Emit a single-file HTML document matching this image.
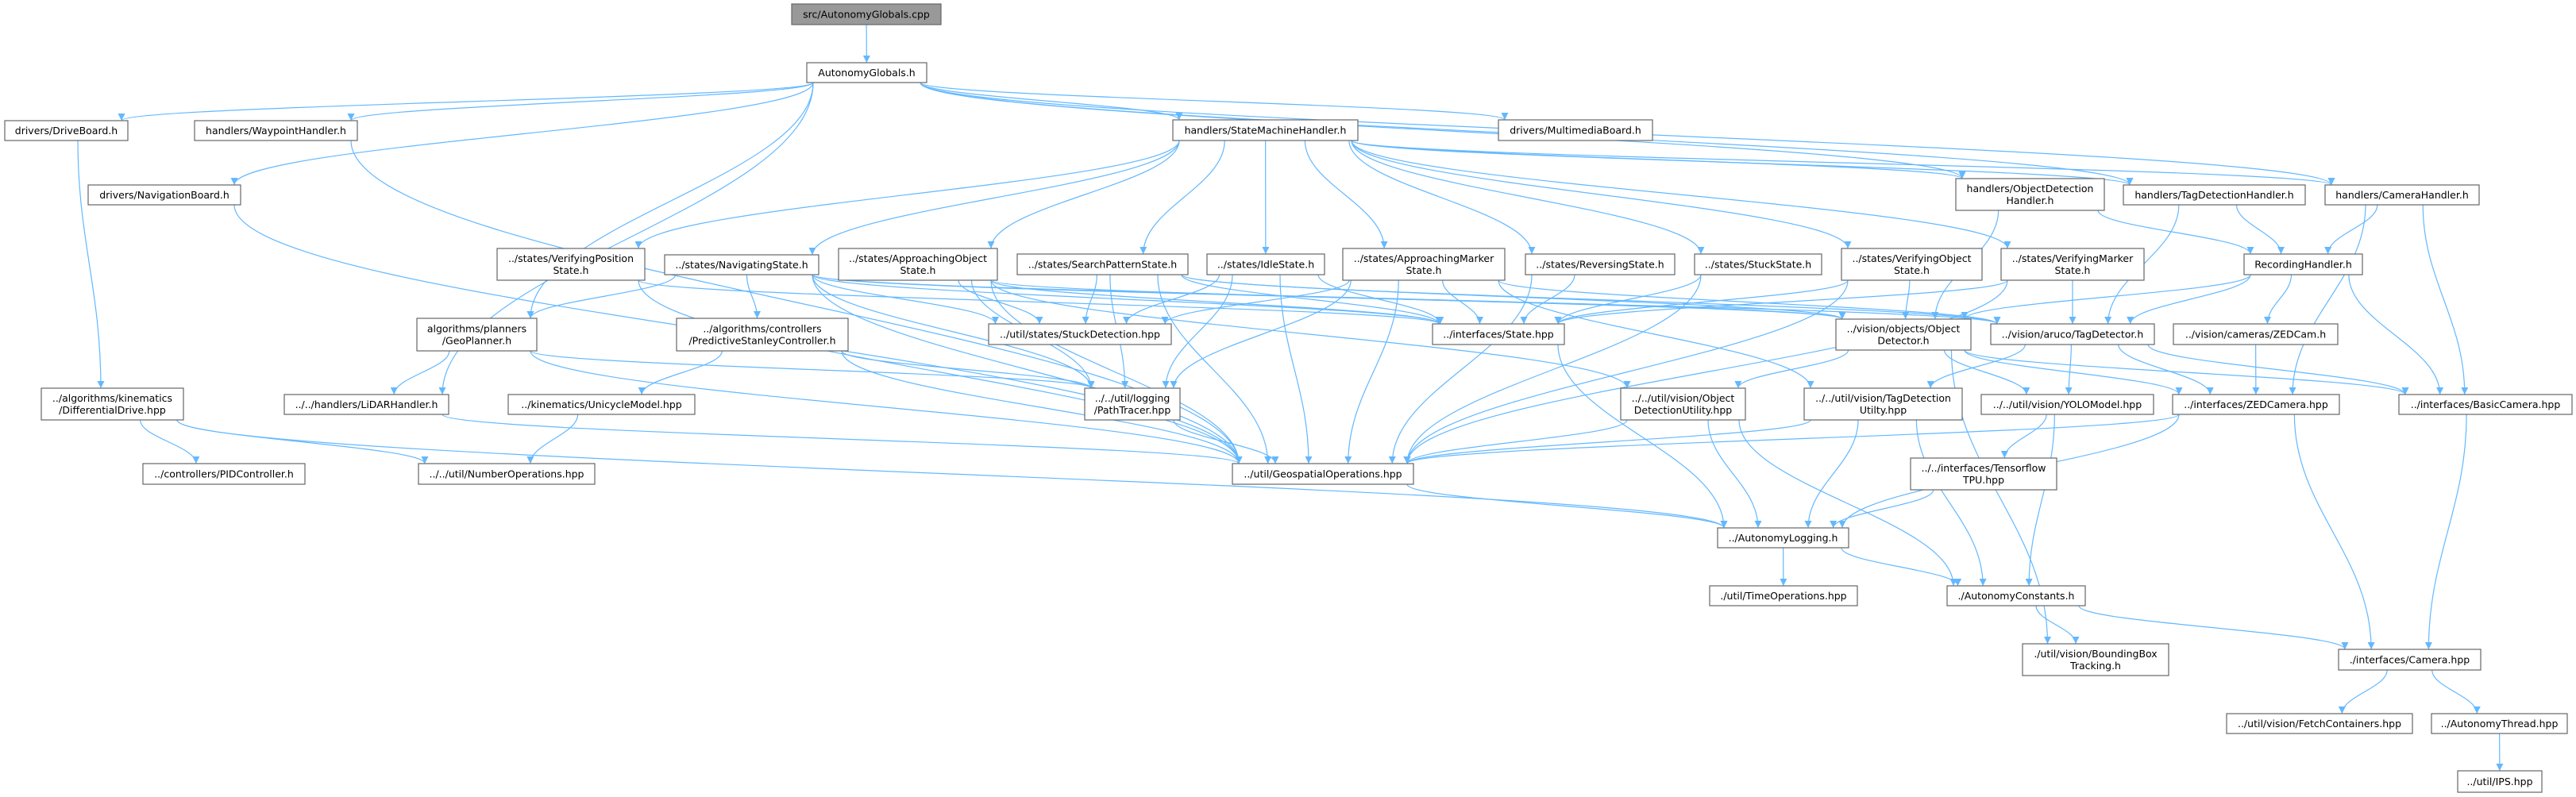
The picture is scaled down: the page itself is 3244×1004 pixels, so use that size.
<!DOCTYPE html>
<html><head><meta charset="utf-8"><style>
html,body{margin:0;padding:0;background:#fff;}
svg{display:block;}
text{font-family:"DejaVu Sans","Liberation Sans",sans-serif;font-size:12.5px;fill:#000;}
rect{fill:#fff;stroke:#666;stroke-width:1.2;}
.e{fill:none;stroke:#63b8ff;stroke-width:1.2;}
</style></head><body>
<svg id="g" width="3244" height="1004" viewBox="0 0 3244 1004" xmlns="http://www.w3.org/2000/svg">
<defs><marker id="a" viewBox="0 0 10 10" refX="10" refY="5" markerWidth="9" markerHeight="9" markerUnits="userSpaceOnUse" orient="auto"><path d="M0,0 L10,5 L0,10 z" fill="#63b8ff"/></marker></defs>
<g id="edges"></g>
<g id="nodes"></g>
</svg>
<div id="labels" style="display:none">
<span data-id="src" data-b="997,5,1185,31">src/AutonomyGlobals.cpp</span>
<span data-id="AG" data-b="1016,79,1167,104">AutonomyGlobals.h</span>
<span data-id="DB" data-b="6,152,161,177">drivers/DriveBoard.h</span>
<span data-id="WH" data-b="245,152,450,177">handlers/WaypointHandler.h</span>
<span data-id="NB" data-b="111,233,303,258">drivers/NavigationBoard.h</span>
<span data-id="SMH" data-b="1477,151,1710,177">handlers/StateMachineHandler.h</span>
<span data-id="MB" data-b="1887,151,2081,177">drivers/MultimediaBoard.h</span>
<span data-id="ODH" data-b="2463,225,2650,265">handlers/ObjectDetection|Handler.h</span>
<span data-id="TDH" data-b="2674,233,2903,258">handlers/TagDetectionHandler.h</span>
<span data-id="CH" data-b="2928,233,3122,258">handlers/CameraHandler.h</span>
<span data-id="VPS" data-b="626,313,812,353">../states/VerifyingPosition|State.h</span>
<span data-id="NS" data-b="837,321,1031,346">../states/NavigatingState.h</span>
<span data-id="AOS" data-b="1056,313,1256,353">../states/ApproachingObject|State.h</span>
<span data-id="SPS" data-b="1281,320,1496,346">../states/SearchPatternState.h</span>
<span data-id="IS" data-b="1520,320,1668,346">../states/IdleState.h</span>
<span data-id="AMS" data-b="1691,313,1895,353">../states/ApproachingMarker|State.h</span>
<span data-id="RS" data-b="1921,320,2109,346">../states/ReversingState.h</span>
<span data-id="SS" data-b="2134,320,2294,346">../states/StuckState.h</span>
<span data-id="VOS" data-b="2319,313,2496,353">../states/VerifyingObject|State.h</span>
<span data-id="VMS" data-b="2520,313,2700,353">../states/VerifyingMarker|State.h</span>
<span data-id="RH" data-b="2826,320,2975,346">RecordingHandler.h</span>
<span data-id="GP" data-b="525,401,676,442">algorithms/planners|/GeoPlanner.h</span>
<span data-id="PSC" data-b="852,401,1068,442">../algorithms/controllers|/PredictiveStanleyController.h</span>
<span data-id="SD" data-b="1245,408,1475,434">../util/states/StuckDetection.hpp</span>
<span data-id="STH" data-b="1804,408,1970,434">../interfaces/State.hpp</span>
<span data-id="OD" data-b="2312,402,2482,441">../vision/objects/Object|Detector.h</span>
<span data-id="TD" data-b="2507,408,2713,434">../vision/aruco/TagDetector.h</span>
<span data-id="ZC" data-b="2737,408,2944,434">../vision/cameras/ZEDCam.h</span>
<span data-id="DD" data-b="52,489,231,529">../algorithms/kinematics|/DifferentialDrive.hpp</span>
<span data-id="LH" data-b="358,497,565,522">../../handlers/LiDARHandler.h</span>
<span data-id="UM" data-b="640,497,875,522">../kinematics/UnicycleModel.hpp</span>
<span data-id="PT" data-b="1366,489,1486,529">../../util/logging|/PathTracer.hpp</span>
<span data-id="ODU" data-b="2041,489,2198,529">../../util/vision/Object|DetectionUtility.hpp</span>
<span data-id="TDU" data-b="2272,489,2471,529">../../util/vision/TagDetection|Utilty.hpp</span>
<span data-id="YM" data-b="2495,497,2712,522">../../util/vision/YOLOModel.hpp</span>
<span data-id="ZCam" data-b="2736,497,2946,522">../interfaces/ZEDCamera.hpp</span>
<span data-id="BC" data-b="3021,497,3239,522">../interfaces/BasicCamera.hpp</span>
<span data-id="PID" data-b="180,584,384,610">../controllers/PIDController.h</span>
<span data-id="NO" data-b="527,584,749,610">../../util/NumberOperations.hpp</span>
<span data-id="GO" data-b="1552,584,1780,610">../util/GeospatialOperations.hpp</span>
<span data-id="TPU" data-b="2406,577,2590,617">../../interfaces/Tensorflow|TPU.hpp</span>
<span data-id="AL" data-b="2163,665,2328,690">../AutonomyLogging.h</span>
<span data-id="TO" data-b="2153,738,2339,763">./util/TimeOperations.hpp</span>
<span data-id="AC" data-b="2452,738,2626,763">./AutonomyConstants.h</span>
<span data-id="BB" data-b="2547,811,2731,851">./util/vision/BoundingBox|Tracking.h</span>
<span data-id="CAM" data-b="2945,818,3124,844">./interfaces/Camera.hpp</span>
<span data-id="FC" data-b="2804,899,3038,924">../util/vision/FetchContainers.hpp</span>
<span data-id="AT" data-b="3062,899,3233,924">../AutonomyThread.hpp</span>
<span data-id="IPS" data-b="3095,971,3201,998">../util/IPS.hpp</span>
</div>
<script>
var NS="http://www.w3.org/2000/svg",B={};
var ng=document.getElementById('nodes'),eg=document.getElementById('edges');
document.querySelectorAll('#labels span').forEach(function(s){
 var b=s.getAttribute('data-b').split(',').map(Number),id=s.getAttribute('data-id');B[id]=b;
 var r=document.createElementNS(NS,'rect');r.setAttribute('x',b[0]);r.setAttribute('y',b[1]);
 r.setAttribute('width',b[2]-b[0]);r.setAttribute('height',b[3]-b[1]);
 if(id=='src'){r.style.fill='#999';}
 ng.appendChild(r);
 var lines=s.textContent.split('|'),cx=(b[0]+b[2])/2,cy=(b[1]+b[3])/2;
 lines.forEach(function(t,i){var tx=document.createElementNS(NS,'text');
  tx.setAttribute('x',cx);tx.setAttribute('y',cy+4.5+(i-(lines.length-1)/2)*15);
  tx.setAttribute('text-anchor','middle');tx.textContent=t;ng.appendChild(tx);});
});
var E="src>AG AG>DB AG>WH AG>NB AG>SMH AG>MB AG>ODH AG>TDH AG>CH AG>GP AG>LH DB>DD WH>GO NB>GO DD>PID DD>NO DD>AL "+
"SMH>VPS SMH>NS SMH>AOS SMH>SPS SMH>IS SMH>AMS SMH>RS SMH>SS SMH>VOS SMH>VMS SMH>CH SMH>ODH SMH>TDH "+
"VPS>STH VPS>GO NS>GP NS>PSC NS>PT NS>STH NS>SD NS>OD NS>TD NS>GO AOS>SD AOS>STH AOS>PT AOS>GO AOS>OD AOS>ODU "+
"SPS>SD SPS>STH SPS>PT SPS>GO SPS>OD SPS>TD IS>STH IS>PT IS>GO IS>SD AMS>STH AMS>PT AMS>GO AMS>TD AMS>SD AMS>TDU "+
"RS>STH RS>GO SS>STH SS>GO VOS>STH VOS>OD VOS>GO VMS>STH VMS>TD VMS>GO ODH>RH ODH>OD TDH>RH TDH>TD CH>RH CH>BC CH>ZCam "+
"RH>OD RH>TD RH>ZC RH>BC GP>LH GP>PT GP>GO PSC>UM PSC>PT PSC>GO UM>NO LH>GO PT>GO STH>AL OD>ODU OD>YM OD>ZCam OD>BC OD>BB "+
"TD>TDU TD>YM TD>ZCam TD>BC ZC>ZCam ODU>GO ODU>AL ODU>AC TDU>GO TDU>AL TDU>AC YM>TPU YM>AC ZCam>GO ZCam>AL ZCam>CAM BC>CAM "+
"TPU>AL GO>AL AL>TO AL>AC AC>BB AC>CAM CAM>FC CAM>AT AT>IPS";
function cl(v,a,b){return Math.max(a,Math.min(b,v));}
E.split(' ').forEach(function(p){
 var q=p.split('>'),s=B[q[0]],t=B[q[1]];if(!s||!t)return;
 var scx=(s[0]+s[2])/2,tcx=(t[0]+t[2])/2,d;
 if(t[1]>s[3]+5){
  var sx=cl(scx+(tcx-scx)*0.25,s[0]+8,s[2]-8),sy=s[3];
  var tx=cl(tcx+(scx-tcx)*0.25,t[0]+8,t[2]-8),ty=t[1];
  d="M"+sx+","+sy+" C"+sx+","+(sy+(ty-sy)*0.4)+" "+tx+","+(ty-(ty-sy)*0.4)+" "+tx+","+ty;
 } else {
  var y=(s[1]+s[3])/2,ty2=(t[1]+t[3])/2,sx2=tcx>scx?s[2]:s[0],tx2=tcx>scx?t[0]:t[2];
  d="M"+sx2+","+y+" C"+((sx2+tx2)/2)+","+y+" "+((sx2+tx2)/2)+","+ty2+" "+tx2+","+ty2;
 }
 var pa=document.createElementNS(NS,'path');pa.setAttribute('d',d);pa.setAttribute('class','e');
 pa.setAttribute('marker-end','url(#a)');eg.appendChild(pa);
});
</script>
</body></html>
